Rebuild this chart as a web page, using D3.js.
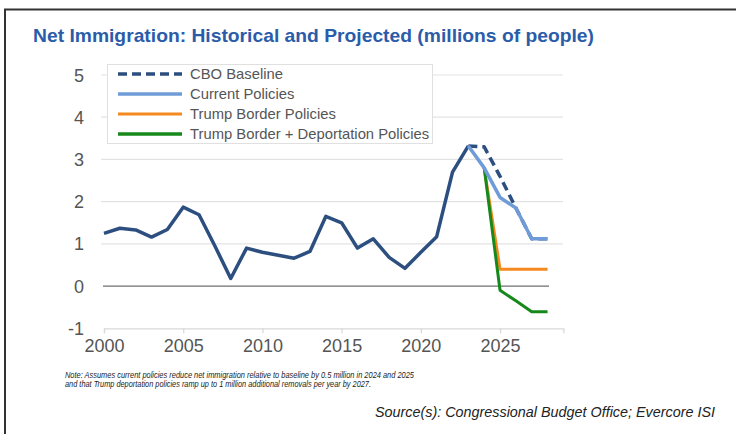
<!DOCTYPE html>
<html>
<head>
<meta charset="utf-8">
<script src="https://cdn.jsdelivr.net/npm/d3@7"></script>
<style>
  html, body { margin: 0; padding: 0; background: #fff; }
  svg { display: block; font-family: "Liberation Sans", Arial, sans-serif; }
</style>
</head>
<body>
<svg id="chart" width="736" height="434"></svg>
<script>
// Net immigration, millions of people
const histYears = [2000, 2001, 2002, 2003, 2004, 2005, 2006, 2007, 2008, 2009, 2010, 2011, 2012,
                   2013, 2014, 2015, 2016, 2017, 2018, 2019, 2020, 2021, 2022, 2023];
const histValues = [1.25, 1.37, 1.33, 1.16, 1.34, 1.87, 1.69, 0.95, 0.18, 0.90, 0.80, 0.73, 0.66,
                    0.82, 1.65, 1.50, 0.90, 1.12, 0.68, 0.42, 0.80, 1.17, 2.70, 3.32];

const projYears = [2023, 2024, 2025, 2026, 2027, 2028];
const cboBaseline = [3.32, 3.30, 2.60, 1.85, 1.12, 1.12];
const currentPolicies = [3.32, 2.80, 2.10, 1.85, 1.12, 1.12];

const trumpYears = [2024, 2025, 2026, 2027, 2028];
const trumpBorder = [2.80, 0.40, 0.40, 0.40, 0.40];
const trumpDeport = [2.80, -0.10, -0.35, -0.61, -0.61];

const yTicks = [-1, 0, 1, 2, 3, 4, 5];
const xTicks = [2000, 2005, 2010, 2015, 2020, 2025];

const legendLabels = ["CBO Baseline", "Current Policies", "Trump Border Policies",
                      "Trump Border + Deportation Policies"];

const colors = {
  hist: "#2c4f80",
  current: "#6f9cd9",
  border: "#f5891f",
  deport: "#16891a"
};

const svg = d3.select("#chart");

// outer frame (top and left rules)
svg.append("line").attr("x1", 4).attr("x2", 736).attr("y1", 9.5).attr("y2", 9.5)
  .attr("stroke", "#333").attr("stroke-width", 2);
svg.append("line").attr("x1", 5).attr("x2", 5).attr("y1", 9).attr("y2", 434)
  .attr("stroke", "#333").attr("stroke-width", 2);

// title
svg.append("text")
  .attr("x", 33).attr("y", 42)
  .attr("fill", "#2b5ca9")
  .attr("font-size", 19)
  .attr("font-weight", "bold")
  .attr("textLength", 561)
  .attr("lengthAdjust", "spacingAndGlyphs")
  .text("Net Immigration: Historical and Projected (millions of people)");

const x = d3.scaleLinear().domain([2000, 2029]).range([104, 563.4]);
const y = d3.scaleLinear().domain([-1, 5]).range([328.3, 75]);

// gridlines
svg.append("g").selectAll("line").data(yTicks.filter(d => d !== -1 && d !== 0)).join("line")
  .attr("x1", 101).attr("x2", 563)
  .attr("y1", d => y(d)).attr("y2", d => y(d))
  .attr("stroke", "#e3e3e3").attr("stroke-width", 1.2);

// zero line
svg.append("line").attr("x1", 103).attr("x2", 549)
  .attr("y1", y(0)).attr("y2", y(0))
  .attr("stroke", "#6e6e6e").attr("stroke-width", 1.3);

// y axis labels
svg.append("g").selectAll("text").data(yTicks).join("text")
  .attr("x", 84).attr("y", d => y(d) + 6.5)
  .attr("text-anchor", "end")
  .attr("fill", "#555")
  .attr("font-size", 18)
  .text(d => d);

// x axis
const xAxis = d3.axisBottom(x).tickValues(xTicks).tickFormat(d3.format("d")).tickSize(5).tickPadding(6);
const gx = svg.append("g").attr("transform", `translate(0,${y(-1)})`).call(xAxis);
gx.select(".domain").attr("stroke", "#d9d9d9").attr("stroke-width", 1.3);
gx.selectAll(".tick line").attr("stroke", "#d9d9d9").attr("stroke-width", 1.3);
gx.selectAll(".tick text").attr("fill", "#555").attr("font-size", 18)
  .attr("font-family", "Liberation Sans, Arial, sans-serif");

const line = d3.line().x(d => x(d[0])).y(d => y(d[1]));

function series(years, values, color, width, dash) {
  svg.append("path")
    .datum(years.map((yr, i) => [yr, values[i]]))
    .attr("d", line)
    .attr("fill", "none")
    .attr("stroke", color)
    .attr("stroke-width", width)
    .attr("stroke-linejoin", "round")
    .attr("stroke-dasharray", dash || null);
}

series(histYears, histValues, colors.hist, 3.5);
series(projYears, cboBaseline, colors.hist, 3.5, "9,5");
series(trumpYears, trumpBorder, colors.border, 3);
series(trumpYears, trumpDeport, colors.deport, 3);
series(projYears, currentPolicies, colors.current, 3.5);

// legend
const lg = svg.append("g");
lg.append("rect").attr("x", 107.5).attr("y", 64.5).attr("width", 325).attr("height", 79)
  .attr("fill", "#fff").attr("stroke", "#e0e0e0").attr("stroke-width", 1);
const legendStyles = [
  { color: colors.hist, dash: "9,5", width: 3.5 },
  { color: colors.current, width: 3.5 },
  { color: colors.border, width: 3 },
  { color: colors.deport, width: 3.5 }
];
legendLabels.forEach((lab, i) => {
  const ly = 74 + i * 20;
  lg.append("line").attr("x1", 118).attr("x2", 182).attr("y1", ly).attr("y2", ly)
    .attr("stroke", legendStyles[i].color)
    .attr("stroke-width", legendStyles[i].width)
    .attr("stroke-dasharray", legendStyles[i].dash || null);
  lg.append("text").attr("x", 190).attr("y", ly + 5)
    .attr("fill", "#555").attr("font-size", 14.8).text(lab);
});

// notes
const note = svg.append("g").attr("font-style", "italic").attr("font-size", 9.2)
  .attr("fill", "#222");
note.append("text").attr("x", 65).attr("y", 377.5)
  .attr("textLength", 349).attr("lengthAdjust", "spacingAndGlyphs")
  .text("Note: Assumes current policies reduce net immigration relative to baseline by 0.5 million in 2024 and 2025");
note.append("text").attr("x", 65).attr("y", 386.5)
  .attr("textLength", 306).attr("lengthAdjust", "spacingAndGlyphs")
  .text("and that Trump deportation policies ramp up to 1 million additional removals per year by 2027.");

svg.append("text").attr("x", 715).attr("y", 417)
  .attr("text-anchor", "end").attr("font-style", "italic")
  .attr("font-size", 14).attr("fill", "#222")
  .attr("textLength", 340).attr("lengthAdjust", "spacingAndGlyphs")
  .text("Source(s): Congressional Budget Office; Evercore ISI");
</script>
</body>
</html>
